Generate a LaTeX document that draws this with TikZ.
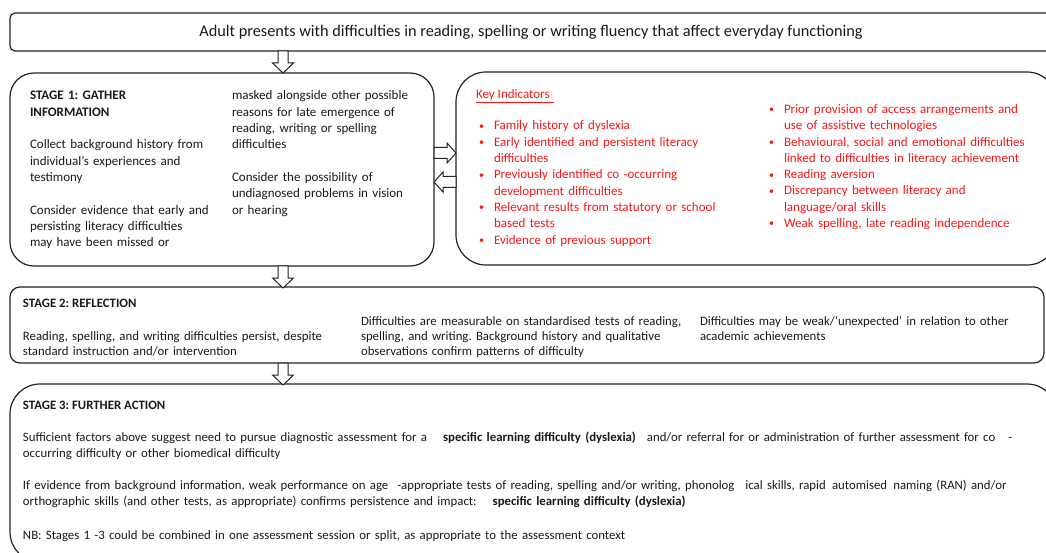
\documentclass[tikz,border=0pt]{standalone}
\usepackage{fontspec}
\setmainfont{Carlito}
\frenchspacing
\definecolor{ink}{RGB}{25,25,25}
\definecolor{edge}{RGB}{35,35,35}
\definecolor{keyred}{RGB}{255,20,20}
\newcommand{\kbul}{\makebox[15pt][l]{\raisebox{0.6pt}{\fontsize{10}{10}\selectfont\textbullet}}}
\newcommand{\kind}{\hspace*{15pt}}
\begin{document}
\begin{tikzpicture}[x=1pt,y=-1pt,
  box/.style={draw=edge, line width=1.2pt, inner sep=0pt, outer sep=0pt, anchor=north west},
  txt/.style={anchor=base west, inner sep=0pt, outer sep=0pt, text=ink, align=left,
              font=\fontsize{13}{16.3}\selectfont},
  ctxt/.style={anchor=base west, inner sep=0pt, outer sep=0pt, text=ink, align=left,
              font=\fontsize{12.8}{15.4}\selectfont},
  stxt/.style={anchor=base west, inner sep=0pt, outer sep=0pt, text=ink, align=left,
              font=\fontsize{12.8}{16}\selectfont},
  arrowst/.style={draw=edge, line width=1pt, fill=white, line join=miter},
  darr/.pic={\draw[arrowst] (-5,0) -- (5,0) -- (5,12) -- (10.5,12) -- (0,22) -- (-10.5,12) -- (-5,12) -- cycle;},
  rarr/.pic={\draw[arrowst] (0,-5.5) -- (13,-5.5) -- (13,-10) -- (22,0) -- (13,10) -- (13,5.5) -- (0,5.5) -- cycle;},
  larr/.pic={\draw[arrowst] (0,-5.5) -- (-13,-5.5) -- (-13,-10) -- (-22,0) -- (-13,10) -- (-13,5.5) -- (0,5.5) -- cycle;}
]
\useasboundingbox (0,0) rectangle (1046,553);
\clip (0,0) rectangle (1046,553);

% boxes
\node[box, rounded corners=5pt, minimum width=1042pt, minimum height=38pt,
      text=ink, font=\fontsize{16.3}{19}\selectfont] (top) at (10,13)
      {Adult presents with difficulties in reading, spelling or writing fluency that affect everyday functioning};
\node[box, rounded corners=24pt, minimum width=424pt, minimum height=193pt] (s1) at (10,73) {};
\node[box, rounded corners=30pt, minimum width=601pt, minimum height=193pt] (key) at (456,72) {};
\node[box, rounded corners=10pt, minimum width=1034pt, minimum height=76pt] (s2) at (10,287) {};
\node[box, rounded corners=30pt, minimum width=1047pt, minimum height=178pt] (s3) at (10,384) {};

% connectors (block arrows)
\coordinate (ax) at (283,0);
\coordinate (ay1) at (0,153);
\coordinate (ay2) at (0,182);
\pic at (top.south -| ax) {darr};
\pic at (s1.south -| ax) {darr};
\pic at (s2.south -| ax) {darr};
\pic at (s1.east |- ay1) {rarr};
\pic at (key.west |- ay2) {larr};

% stage 1
\node[txt, text width=200pt] (s1a) at (30,100)
  {\textbf{STAGE 1: GATHER}\\
   \textbf{INFORMATION}\\[16.3pt]
   Collect background history from\\
   individual’s experiences and\\
   testimony\\[16.3pt]
   Consider evidence that early and\\
   persisting literacy difficulties\\
   may have been missed or};
\node[txt, text width=200pt] (s1b) at (232,100)
  {masked alongside other possible\\
   reasons for late emergence of\\
   reading, writing or spelling\\
   difficulties\\[16.3pt]
   Consider the possibility of\\
   undiagnosed problems in vision\\
   or hearing};

% key indicators
\node[txt, text=keyred] (kh) at (476,98.5) {\underline{Key Indicators\,\,}};
\node[txt, text=keyred, text width=285pt] (kl) at (479,130)
  {\kbul Family history of dyslexia\\
   \kbul Early identified and persistent literacy\\
   \kind difficulties\\
   \kbul Previously identified co -occurring\\
   \kind development difficulties\\
   \kbul Relevant results from statutory or school\\
   \kind based tests\\
   \kbul Evidence of previous support};
\node[txt, text=keyred, text width=275pt] (kr) at (769,113.5)
  {\kbul Prior provision of access arrangements and\\
   \kind use of assistive technologies\\
   \kbul Behavioural, social and emotional difficulties\\
   \kind linked to difficulties in literacy achievement\\
   \kbul Reading aversion\\
   \kbul Discrepancy between literacy and\\
   \kind language/oral skills\\
   \kbul Weak spelling, late reading independence};

% stage 2
\node[ctxt] (s2h) at (23,307) {\textbf{STAGE 2: REFLECTION}};
\node[ctxt, text width=330pt] (s2a) at (23,340)
  {Reading, spelling, and writing difficulties persist, despite\\
   standard instruction and/or intervention};
\node[ctxt, text width=335pt] (s2b) at (361,325)
  {Difficulties are measurable on standardised tests of reading,\\
   spelling, and writing. Background history and qualitative\\
   observations confirm patterns of difficulty};
\node[ctxt, text width=335pt] (s2c) at (700,325)
  {Difficulties may be weak/‘unexpected’ in relation to other\\
   academic achievements};

% stage 3
\node[stxt] (s3h) at (23,409) {\textbf{STAGE 3: FURTHER ACTION}};
\node[stxt, text width=1020pt] (s3a) at (23,441)
  {Sufficient factors above suggest need to pursue diagnostic assessment for a\hspace{16pt}\textbf{specific learning difficulty (dyslexia)}\hspace{11pt}and/or referral for or administration of further assessment for co\hspace{13pt}-\\
   occurring difficulty or other biomedical difficulty};
\node[stxt, text width=1020pt] (s3b) at (23,489)
  {If evidence from background information, weak performance on age\hspace{9pt}-appropriate tests of reading, spelling and/or writing, phonolog\hspace{11pt}ical skills, rapid\hspace{2pt} automised\hspace{2pt} naming (RAN) and/or\\
   orthographic skills (and other tests, as appropriate) confirms persistence and impact:\hspace{16pt}\textbf{specific learning difficulty (dyslexia)}};
\node[stxt, text width=1020pt] (s3c) at (23,539)
  {NB: Stages 1 -3 could be combined in one assessment session or split, as appropriate to the assessment context};
\end{tikzpicture}
\end{document}
